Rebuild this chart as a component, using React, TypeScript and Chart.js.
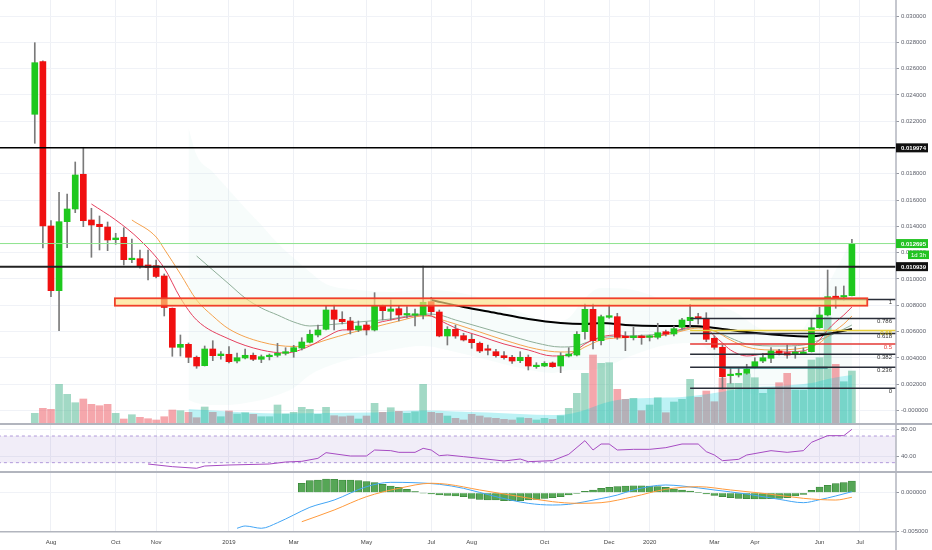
import React, { useEffect, useRef } from 'react';
import { Chart, registerables } from 'chart.js';

Chart.register(...registerables);

// Weekly candles, first week = 2018-07-23 (index 0)
const openP = [
  0.022526, 0.026526, 0.014031, 0.009111, 0.014358, 0.015324, 0.017963, 0.014488, 0.014161, 0.013955,
  0.012989, 0.013172, 0.011468, 0.011544, 0.011065, 0.011012, 0.010229, 0.007772, 0.004806, 0.005034,
  0.004046, 0.003407, 0.004677, 0.004168, 0.004274, 0.003764, 0.003993, 0.004198, 0.003894, 0.004091,
  0.004198, 0.00435, 0.004472, 0.00475, 0.005187, 0.005742, 0.006175, 0.007643, 0.006936, 0.006806,
  0.006122, 0.006502, 0.006122, 0.007947, 0.007544, 0.007742, 0.007263, 0.00724, 0.007263, 0.008274,
  0.007491, 0.005666, 0.006175, 0.005689, 0.005415, 0.005111, 0.004624, 0.004472, 0.004168, 0.004046,
  0.003787, 0.004046, 0.003331, 0.003384, 0.003612, 0.003384, 0.004145, 0.004221, 0.005993, 0.007696,
  0.005308, 0.007088, 0.007133, 0.005612, 0.005536, 0.005666, 0.005567, 0.005567, 0.005993, 0.005818,
  0.006327, 0.006829, 0.007133, 0.007012, 0.005491, 0.004806, 0.002647, 0.0027, 0.002829, 0.003331,
  0.003764, 0.00397, 0.004525, 0.004396, 0.004274, 0.00432, 0.004472, 0.006297, 0.007263, 0.008654,
  0.008631, 0.00873,
];
const highP = [
  0.027971, 0.0266, 0.014434, 0.016594, 0.016465, 0.018899, 0.020016, 0.015377, 0.014792, 0.014335,
  0.013476, 0.013902, 0.013043, 0.012206, 0.012206, 0.011445, 0.010381, 0.007795, 0.005742, 0.005133,
  0.004145, 0.004905, 0.005308, 0.004472, 0.004852, 0.004373, 0.004677, 0.004373, 0.004221, 0.004297,
  0.005111, 0.004776, 0.004958, 0.005536, 0.006122, 0.006502, 0.007947, 0.008023, 0.007514, 0.007088,
  0.006806, 0.00673, 0.008959, 0.008023, 0.008404, 0.007947, 0.007894, 0.007719, 0.010989, 0.008609,
  0.007643, 0.006373, 0.006502, 0.005871, 0.005795, 0.005209, 0.004981, 0.004654, 0.004472, 0.004198,
  0.004472, 0.004221, 0.003635, 0.003711, 0.003688, 0.004396, 0.004776, 0.005993, 0.008099, 0.008099,
  0.007263, 0.008023, 0.007392, 0.005993, 0.006327, 0.005742, 0.005742, 0.006632, 0.006122, 0.006426,
  0.007012, 0.008076, 0.007392, 0.007438, 0.005666, 0.004981, 0.003285, 0.003285, 0.003514, 0.004015,
  0.00435, 0.004776, 0.004654, 0.004981, 0.004852, 0.004753, 0.007012, 0.007848, 0.010685, 0.009415,
  0.009468, 0.01302,
];
const lowP = [
  0.020321, 0.012358, 0.008654, 0.006069, 0.012381, 0.015043, 0.013978, 0.011651, 0.012206, 0.012153,
  0.01264, 0.011065, 0.01124, 0.010814, 0.009925, 0.010077, 0.007187, 0.004122, 0.004145, 0.003635,
  0.003209, 0.003384, 0.003787, 0.003894, 0.003612, 0.003612, 0.003917, 0.003787, 0.003635, 0.003841,
  0.004069, 0.004221, 0.004046, 0.004601, 0.005133, 0.00559, 0.006122, 0.006122, 0.006578, 0.005818,
  0.005993, 0.005742, 0.006046, 0.006883, 0.006883, 0.006806, 0.007035, 0.006426, 0.006958, 0.007263,
  0.0056, 0.004981, 0.005491, 0.005285, 0.00473, 0.004396, 0.004221, 0.004046, 0.003894, 0.003589,
  0.003635, 0.00308, 0.003209, 0.003331, 0.003285, 0.002875, 0.004069, 0.004145, 0.005415, 0.004677,
  0.004981, 0.007012, 0.005415, 0.004548, 0.005362, 0.005034, 0.005285, 0.005438, 0.005666, 0.005666,
  0.006122, 0.006327, 0.006578, 0.005232, 0.004654, 0.001635, 0.002069, 0.002548, 0.002753, 0.003232,
  0.003635, 0.003635, 0.004221, 0.00397, 0.00397, 0.004297, 0.004449, 0.006251, 0.007187, 0.007772,
  0.008404, 0.008708,
];
const closeP = [
  0.02645, 0.014031, 0.009111, 0.014358, 0.015324, 0.01791, 0.014434, 0.014107, 0.013978, 0.012966,
  0.013119, 0.011468, 0.011575, 0.011012, 0.010875, 0.010191, 0.007833, 0.004806, 0.005034, 0.004046,
  0.003384, 0.004677, 0.004168, 0.004297, 0.003711, 0.004015, 0.004198, 0.003894, 0.004091, 0.004198,
  0.00435, 0.004472, 0.004776, 0.005209, 0.005795, 0.006122, 0.007643, 0.006936, 0.006753, 0.006122,
  0.006426, 0.006122, 0.007947, 0.00759, 0.007719, 0.007263, 0.007362, 0.007316, 0.008229, 0.007514,
  0.005666, 0.006175, 0.005666, 0.005362, 0.005156, 0.004525, 0.004578, 0.004168, 0.004015, 0.003764,
  0.004046, 0.003384, 0.003407, 0.003589, 0.003331, 0.004145, 0.004297, 0.005795, 0.007696, 0.005308,
  0.007133, 0.00721, 0.005567, 0.005536, 0.005666, 0.005536, 0.005612, 0.005917, 0.005818, 0.006221,
  0.006883, 0.007088, 0.007012, 0.005415, 0.004806, 0.00257, 0.002723, 0.002829, 0.003156, 0.003711,
  0.004015, 0.004525, 0.00435, 0.004221, 0.004449, 0.004449, 0.006297, 0.007263, 0.008654, 0.008578,
  0.008708, 0.012695,
];
const volume = [
  10.7, 15.7, 14.7, 39.7, 29.7, 21.3, 25, 19.7, 18.3, 19.7,
  10.7, 5, 9.3, 6.7, 5.3, 4, 7.3, 14, 13.3, 11.7,
  6.3, 17, 11.7, 7.3, 13, 10, 11.3, 9.7, 7.3, 7.3,
  19, 10, 11.7, 16.7, 14.7, 9.7, 16.7, 8.3, 7.3, 8,
  5, 8, 20.7, 11.7, 16.3, 12.7, 10.7, 12.3, 39.7, 11.7,
  10.7, 8, 5.7, 4, 9.7, 8, 6.3, 5.7, 4.7, 4,
  6.3, 5.7, 4, 5.7, 4.7, 8.3, 15.7, 30.7, 50.7, 69,
  60.7, 61.3, 34.7, 24.7, 25.7, 13.3, 19, 26.3, 11.3, 22,
  24.7, 44.7, 26.7, 33, 22.3, 46, 40.7, 40.7, 50, 46.3,
  30.7, 34.7, 41.3, 50.7, 34, 34, 64, 66.3, 107, 59.7,
  42.3, 53,
];

const xTickIdx = [2, 10, 15, 24, 32, 41, 49, 54, 63, 71, 76, 84, 89, 97, 102];
const xTickLabels = ['Aug', 'Oct', 'Nov', '2019', 'Mar', 'May', 'Jul', 'Aug', 'Oct', 'Dec', '2020', 'Mar', 'Apr', 'Jun', 'Jul'];

const priceTicks = [0.03, 0.028, 0.026, 0.024, 0.022, 0.02, 0.018, 0.016, 0.014, 0.012, 0.01, 0.008, 0.006, 0.004, 0.002, 0];
const priceTickLabels = ['0.030000', '0.028000', '0.026000', '0.024000', '0.022000', '0.020000', '0.018000', '0.016000',
  '0.014000', '0.012000', '0.010000', '0.008000', '0.006000', '0.004000', '0.002000', '-0.000000'];
const rsiTicks = [80, 40];
const rsiTickLabels = ['80.00', '40.00'];
const macdTicks = [0, -0.005];
const macdTickLabels = ['0.000000', '-0.005000'];

// moving averages: [week index, price]
const emaFast = [
  [7, 0.015704], [10, 0.014488], [13, 0.012966], [16, 0.010837], [18, 0.008556], [20, 0.006883], [24, 0.005438],
  [28, 0.004601], [31, 0.004373], [34, 0.004905], [36, 0.00559], [38, 0.006122], [41, 0.006198], [42, 0.006578],
  [44, 0.006883], [46, 0.007111], [48, 0.007263], [49, 0.007187], [50, 0.006883], [52, 0.006274], [55, 0.005666],
  [58, 0.005057], [61, 0.004601], [64, 0.004145], [66, 0.004221], [67, 0.004601], [68, 0.005057], [70, 0.00559],
  [72, 0.005742], [74, 0.00559], [76, 0.00559], [78, 0.005818], [80, 0.006198], [82, 0.006426], [83, 0.006274],
  [84, 0.005666], [85, 0.005133], [86, 0.004601], [88, 0.004145], [90, 0.004297], [92, 0.004449], [95, 0.004525],
  [96, 0.004829], [97, 0.005362], [98, 0.006122], [99, 0.00673], [100, 0.007263], [101, 0.007871],
];
const emaMid = [
  [12, 0.014488], [15, 0.013195], [16, 0.012282], [18, 0.010381], [20, 0.008404], [22, 0.007187], [24, 0.006198],
  [28, 0.005209], [32, 0.004867], [34, 0.004981], [36, 0.005362], [39, 0.005894], [42, 0.00635], [45, 0.006806],
  [48, 0.007187], [49, 0.007187], [50, 0.006958], [52, 0.006578], [55, 0.00597], [58, 0.005362], [62, 0.004677],
  [65, 0.004449], [67, 0.004525], [68, 0.004829], [70, 0.005362], [72, 0.005514], [75, 0.00559], [78, 0.005742],
  [80, 0.006046], [82, 0.006274], [84, 0.006046], [86, 0.005362], [88, 0.004829], [91, 0.004601], [95, 0.004753],
  [97, 0.005133], [98, 0.005666], [100, 0.006578], [101, 0.007187],
];
const smaSlow = [
  [20, 0.01175], [22, 0.010685], [24, 0.00962], [26, 0.008556], [28, 0.007795], [30, 0.007263], [32, 0.00673],
  [34, 0.006426], [36, 0.006502], [40, 0.00673], [44, 0.006958], [48, 0.007339], [50, 0.007263], [52, 0.006883],
  [55, 0.00635], [58, 0.005818], [62, 0.005133], [65, 0.004829], [67, 0.004905], [68, 0.005133], [70, 0.005514],
  [73, 0.005666], [76, 0.005742], [79, 0.00597], [81, 0.006274], [82, 0.00635], [84, 0.006046], [86, 0.005514],
  [88, 0.005057], [92, 0.004905], [95, 0.004981], [97, 0.005362], [99, 0.005894], [101, 0.006502],
];
const smaLong = [
  [49, 0.008404], [53, 0.007871], [57, 0.007415], [61, 0.006958], [65, 0.006654], [68, 0.006578], [70, 0.006654],
  [73, 0.006502], [77, 0.006426], [81, 0.006426], [83, 0.00635], [86, 0.006122], [88, 0.00597], [92, 0.005742],
  [96, 0.005628], [98, 0.005818], [101, 0.006198],
];
const bbIdx = [19, 20, 22, 24, 26, 28, 30, 32, 34, 36, 40, 44, 48, 52, 56, 60, 64, 66, 68, 70, 74, 78, 82, 86, 90, 94, 97, 99, 101];
const bbUpper = [0.021484, 0.019431, 0.018138, 0.016769, 0.0154, 0.014107, 0.012738, 0.011598, 0.010533, 0.00962,
  0.009164, 0.009012, 0.009164, 0.009012, 0.008404, 0.007491, 0.00673, 0.007035, 0.008556, 0.009316,
  0.009164, 0.008404, 0.008023, 0.007643, 0.006122, 0.005742, 0.008404, 0.010685, 0.012966];
const bbLower = [0.000799, 0.00057, 0.000418, 0.000418, 0.00057, 0.000799, 0.001179, 0.001711, 0.0027, 0.003308,
  0.004069, 0.004601, 0.004905, 0.004449, 0.003841, 0.003232, 0.002852, 0.00308, 0.00308, 0.003232,
  0.004221, 0.004981, 0.005133, 0.001939, 0.001179, 0.001559, 0.00232, 0.002472, 0.0027];
const volMa = [
  [19, 15], [24, 12.5], [30, 10.5], [36, 11], [42, 11.5], [48, 13.5], [52, 12.5], [56, 11.5], [60, 10], [64, 9],
  [66, 10], [68, 14], [70, 20], [72, 24], [76, 26], [80, 27], [84, 31], [88, 36], [92, 38], [96, 41], [98, 45], [101, 49],
];
const rsi = [
  [14, 28], [17, 24], [20, 21.6], [21, 25], [24, 26.5], [29, 28], [31, 31], [33, 32], [35, 36.5], [36, 45], [39, 40],
  [41, 40], [42, 49], [44, 48], [45, 45.5], [47, 45.5], [48, 51.5], [49, 49], [50, 40.5], [51, 41.5], [53, 39],
  [55, 36.5], [58, 32.5], [60, 35.5], [61, 31.5], [64, 33], [66, 42.5], [68, 63], [69, 49], [70, 58], [71, 58],
  [72, 49], [74, 50], [76, 50], [78, 52.5], [80, 58], [82, 58], [83, 46.5], [84, 41.5], [85, 33], [87, 35],
  [88, 41.5], [91, 48], [93, 45.5], [95, 48], [96, 60.5], [98, 70.5], [100, 70.5], [101, 80],
];
const rsiBands = [70, 30];
const macdStart = 33;
const macdHist = [
  0.001205, 0.001539, 0.001628, 0.001756, 0.001718, 0.001628, 0.001628, 0.001539, 0.00141, 0.001282,
  0.001077, 0.000859, 0.000692, 0.000436, 0.000128, -0.00005, -0.000167, -0.000295, -0.000333, -0.000423,
  -0.000513, -0.000718, -0.000846, -0.000936, -0.000936, -0.001026, -0.001026, -0.001026, -0.000936, -0.000846,
  -0.000718, -0.000641, -0.000513, -0.000295, -0.000077, 0.000179, 0.000346, 0.000564, 0.000692, 0.000769,
  0.000859, 0.000897, 0.000897, 0.000859, 0.000769, 0.000692, 0.000474, 0.000346, 0.000218, 0.000051,
  -0.000167, -0.000333, -0.000513, -0.000641, -0.000718, -0.000769, -0.000808, -0.000808, -0.000769, -0.000718,
  -0.000641, -0.000423, -0.000205, 0.000308, 0.000731, 0.000949, 0.001154, 0.001282, 0.0015,
];
const macdLine = [
  [25, -0.00456], [26, -0.00427], [28, -0.00456], [30, -0.00385], [32, -0.00286], [34, -0.00187], [37, -0.00094],
  [41, 0.00077], [44, 0.00133], [47, 0.00128], [50, 0.00108], [53, 0.00056], [57, -0.00051], [61, -0.00136],
  [64, -0.00158], [66, -0.00149], [68, -0.00115], [70, -0.00075], [72, -0.0003], [74, 0.00035], [78, 0.00099],
  [80, 0.00086], [84, 0.00035], [88, -0.00017], [92, -0.00085], [95, -0.00128], [97, -0.0009], [99, -0.00042],
  [101, 0.00013],
];
const macdSignal = [
  [33, -0.00372], [37, -0.00222], [41, -0.00051], [45, 0.00056], [49, 0.00121], [51, 0.00108], [55, 0.00035],
  [60, -0.00051], [64, -0.00115], [67, -0.00136], [70, -0.00128], [74, -0.00051], [78, 0.00044], [82, 0.00077],
  [86, 0.00035], [90, -0.00008], [95, -0.00072], [99, -0.00094], [101, -0.00059],
];
const levels = [0.019974, 0.010939];
const lastPrice = 0.012695;
const lastPriceLabel = '0.012695';
const levelLabels = ['0.019974', '0.010939'];
const countdown = '1d 3h';
const zoneIdx = [9.9, 102.9];
const zonePrice = [0.008533, 0.00797];
const fibStartIdx = 81;
const fibHigh = 0.008442;
const fibLow = 0.001688;
const fibRatios = [1, 0.786, 0.65, 0.618, 0.5, 0.382, 0.236, 0];
const fibLabels = ['1', '0.786', '0.65', '0.618', '0.5', '0.382', '0.236', '0'];
const trendSegIdx = [85, 98];
const trendSegPrice = 0.003255;

const X_MIN = -4.3;
const X_MAX = 106.45;
const FONT = 'Liberation Sans';
const fibColors = ['#2a2e39', '#2a2e39', '#e8cf3a', '#2a2e39', '#e53935', '#2a2e39', '#2a2e39', '#2a2e39'];
const fibTextColors = ['#333', '#333', '#d4b800', '#333', '#e53935', '#333', '#333', '#333'];

const pts = (arr: number[][]) => arr.map(([x, y]) => ({ x, y }));
const hline = (v: number, from = X_MIN - 1) => [{ x: from, y: v }, { x: X_MAX + 1, y: v }];
const fibValue = (r: number) => fibLow + r * (fibHigh - fibLow);

const overlayPlugin = {
  id: 'overlay',
  afterDatasetsDraw(chart: any) {
    const { ctx, chartArea } = chart;
    const x = chart.scales.x;
    const y = chart.scales.y;
    ctx.save();
    ctx.beginPath();
    ctx.rect(chartArea.left, y.top, chartArea.right - chartArea.left, y.bottom - y.top);
    ctx.clip();
    const rx1 = x.getPixelForValue(zoneIdx[0]);
    const rx2 = x.getPixelForValue(zoneIdx[1]);
    const ry1 = y.getPixelForValue(zonePrice[0]);
    const ry2 = y.getPixelForValue(zonePrice[1]);
    ctx.fillStyle = 'rgba(255,224,130,0.65)';
    ctx.fillRect(rx1, ry1, rx2 - rx1, ry2 - ry1);
    ctx.strokeStyle = '#f0402a';
    ctx.lineWidth = 1.8;
    ctx.strokeRect(rx1, ry1, rx2 - rx1, ry2 - ry1);
    ctx.restore();

    ctx.save();
    ctx.font = `6px "${FONT}"`;
    ctx.textAlign = 'right';
    ctx.textBaseline = 'middle';
    fibRatios.forEach((r, k) => {
      const yy = y.getPixelForValue(fibValue(r));
      ctx.fillStyle = fibTextColors[k];
      ctx.fillText(fibLabels[k], chartArea.right - 4, yy + 3);
    });
    ctx.restore();
  },
  afterDraw(chart: any) {
    const { ctx, chartArea } = chart;
    const y = chart.scales.y;
    ctx.save();
    ctx.strokeStyle = '#b2b5be';
    ctx.lineWidth = 2;
    [chart.scales.yRsi.top, chart.scales.yMacd.top].forEach((yy: number) => {
      ctx.beginPath();
      ctx.moveTo(0, yy);
      ctx.lineTo(chart.width, yy);
      ctx.stroke();
    });
    ctx.lineWidth = 1.5;
    ctx.beginPath();
    ctx.moveTo(chartArea.right, 0);
    ctx.lineTo(chartArea.right, chart.height);
    ctx.stroke();

    const x0 = chartArea.right;
    const tag = (val: number, bg: string, text: string) => {
      const yy = y.getPixelForValue(val);
      ctx.fillStyle = bg;
      ctx.fillRect(x0, yy - 4.5, 32, 9);
      ctx.fillStyle = '#fff';
      ctx.font = `bold 6px "${FONT}"`;
      ctx.textAlign = 'left';
      ctx.textBaseline = 'middle';
      ctx.fillText(text, x0 + 5, yy + 0.5);
      return yy;
    };
    levels.forEach((v, k) => tag(v, '#111', levelLabels[k]));
    const ly = tag(lastPrice, '#22c322', lastPriceLabel);
    ctx.fillStyle = '#22c322';
    ctx.fillRect(x0 + 12, ly + 7, 21, 8.5);
    ctx.fillStyle = '#fff';
    ctx.font = `6px "${FONT}"`;
    ctx.fillText(countdown, x0 + 15, ly + 11.5);
    ctx.restore();
  },
};

const yAxisCommon = (ticks: number[], labels: string[]) => ({
  type: 'linear',
  position: 'right',
  stack: 'pane',
  grid: { color: '#f0f2f7', tickLength: 3, tickColor: '#9598a1', lineWidth: 1 },
  border: { display: false },
  ticks: {
    autoSkip: false,
    padding: 2,
    color: '#5d606b',
    font: { size: 6, family: FONT },
    callback: (_v: any, i: number) => labels[i] ?? '',
  },
  afterBuildTicks: (ax: any) => { ax.ticks = ticks.map((v) => ({ value: v })); },
  afterFit: (ax: any) => { ax.width = 36; ax.paddingTop = 0; ax.paddingBottom = 0; },
});

export default function App() {
  const ref = useRef<HTMLCanvasElement>(null);

  useEffect(() => {
    const idx = openP.map((_, i) => i);
    const up = idx.map((i) => closeP[i] >= openP[i]);
    const maLine = (data: number[][], color: string, width: number, order: number) => ({
      type: 'line', yAxisID: 'y', data: pts(data), borderColor: color, borderWidth: width,
      pointRadius: 0, fill: false, cubicInterpolationMode: 'monotone', order,
    });
    const flat = (v: number, color: string, width: number, from?: number, to?: number) => ({
      type: 'line', yAxisID: 'y',
      data: from === undefined ? hline(v) : [{ x: from, y: v }, { x: to === undefined ? X_MAX + 1 : to, y: v }],
      borderColor: color, borderWidth: width, pointRadius: 0, fill: false, order: 20,
    });

    const datasets: any[] = [
      {
        type: 'line', yAxisID: 'y', data: bbIdx.map((x, k) => ({ x, y: bbUpper[k] })),
        borderWidth: 0, borderColor: 'rgba(0,0,0,0)', pointRadius: 0, fill: '+1',
        backgroundColor: 'rgba(190,228,226,0.13)', cubicInterpolationMode: 'monotone', order: 100,
      },
      {
        type: 'line', yAxisID: 'y', data: bbIdx.map((x, k) => ({ x, y: bbLower[k] })),
        borderWidth: 0, borderColor: 'rgba(0,0,0,0)', pointRadius: 0, fill: false,
        cubicInterpolationMode: 'monotone', order: 100,
      },
      {
        type: 'line', yAxisID: 'yRsi', data: hline(rsiBands[0]), borderColor: 'rgba(149,117,205,0.7)',
        borderDash: [3, 3], borderWidth: 1, pointRadius: 0, fill: '+1',
        backgroundColor: 'rgba(126,87,194,0.11)', order: 95,
      },
      {
        type: 'line', yAxisID: 'yRsi', data: hline(rsiBands[1]), borderColor: 'rgba(149,117,205,0.7)',
        borderDash: [3, 3], borderWidth: 1, pointRadius: 0, fill: false, order: 95,
      },
      {
        type: 'bar', yAxisID: 'yVol', data: idx.map((i) => ({ x: i, y: volume[i] })),
        backgroundColor: idx.map((i) => (up[i] ? 'rgba(70,180,140,0.5)' : 'rgba(235,80,90,0.5)')),
        barThickness: 7, grouped: false, borderWidth: 0, order: 90,
      },
      {
        type: 'line', yAxisID: 'yVol', data: pts(volMa), fill: 'origin',
        backgroundColor: 'rgba(0,205,215,0.26)', borderWidth: 0, borderColor: 'rgba(0,0,0,0)',
        pointRadius: 0, cubicInterpolationMode: 'monotone', order: 85,
      },
      maLine(smaSlow, '#8fae98', 1, 62),
      maLine(emaMid, '#f5a24e', 1, 61),
      maLine(emaFast, '#e5405e', 1, 60),
      maLine(smaLong, '#000000', 2, 59),
      {
        type: 'bar', yAxisID: 'y', data: idx.map((i) => ({ x: i, y: [lowP[i], highP[i]] })),
        backgroundColor: '#7a7a7a', barThickness: 1, grouped: false, borderWidth: 0, order: 42,
      },
      {
        type: 'bar', yAxisID: 'y', data: idx.map((i) => ({ x: i, y: [openP[i], closeP[i]] })),
        backgroundColor: idx.map((i) => (up[i] ? '#1ec81e' : '#f01010')),
        barThickness: 6, grouped: false, borderWidth: 0, minBarLength: 1.5, order: 40,
      },
      flat(levels[0], '#000000', 1.5),
      flat(levels[1], '#222222', 2),
      flat(lastPrice, '#8ee38e', 1),
      ...fibRatios.map((r, k) => flat(fibValue(r), fibColors[k], 1.5, fibStartIdx)),
      flat(trendSegPrice, '#2d7a80', 2, trendSegIdx[0], trendSegIdx[1]),
      {
        type: 'line', yAxisID: 'yRsi', data: pts(rsi), borderColor: '#a64bc2', borderWidth: 1,
        pointRadius: 0, fill: false, order: 45,
      },
      {
        type: 'bar', yAxisID: 'yMacd', data: macdHist.map((v, k) => ({ x: macdStart + k, y: v })),
        backgroundColor: '#56a656', borderColor: '#2f7d2f', borderWidth: 0.6,
        barThickness: 7, grouped: false, order: 50,
      },
      {
        type: 'line', yAxisID: 'yMacd', data: pts(macdLine), borderColor: '#42a5f5', borderWidth: 1,
        pointRadius: 0, fill: false, cubicInterpolationMode: 'monotone', order: 45,
      },
      {
        type: 'line', yAxisID: 'yMacd', data: pts(macdSignal), borderColor: '#ff9a3c', borderWidth: 1,
        pointRadius: 0, fill: false, cubicInterpolationMode: 'monotone', order: 44,
      },
    ];

    const chart = new Chart(ref.current as HTMLCanvasElement, {
      type: 'bar',
      data: { datasets },
      plugins: [overlayPlugin],
      options: {
        responsive: false,
        animation: false,
        devicePixelRatio: 1,
        events: [],
        layout: { padding: { left: 0, right: 0, top: 0, bottom: 4 } },
        plugins: { legend: { display: false }, tooltip: { enabled: false } },
        scales: {
          x: {
            type: 'linear', min: X_MIN, max: X_MAX, offset: false, position: 'bottom',
            grid: { color: '#eef0f5', drawTicks: false, offset: false },
            border: { display: true, color: '#b2b5be', width: 1.5 },
            ticks: {
              autoSkip: false, maxRotation: 0, padding: 7, color: '#444',
              font: { size: 6, family: FONT },
              callback: (_v: any, i: number) => xTickLabels[i] ?? '',
            },
            afterBuildTicks: (ax: any) => { ax.ticks = xTickIdx.map((v) => ({ value: v })); },
            afterFit: (ax: any) => { ax.height = 14; ax.paddingLeft = 0; ax.paddingRight = 0; },
          },
          y: { ...yAxisCommon(priceTicks, priceTickLabels), stackWeight: 424, min: -0.001027, max: 0.031217 },
          yVol: {
            type: 'linear', display: false, position: 'right', min: -108, max: 424,
            afterFit: (ax: any) => { ax.width = 0; ax.paddingTop = 0; ax.paddingBottom = 0; },
          },
          yRsi: { ...yAxisCommon(rsiTicks, rsiTickLabels), stackWeight: 48, min: 16, max: 88 },
          yMacd: { ...yAxisCommon(macdTicks, macdTickLabels), stackWeight: 60, min: -0.005038, max: 0.002654 },
        },
      } as any,
    } as any);
    return () => chart.destroy();
  }, []);

  return (
    <div style={{ position: 'fixed', left: 0, top: 0, width: 932, height: 550, background: '#ffffff' }}>
      <canvas ref={ref} width={932} height={550} style={{ display: 'block', width: 932, height: 550 }} />
    </div>
  );
}
